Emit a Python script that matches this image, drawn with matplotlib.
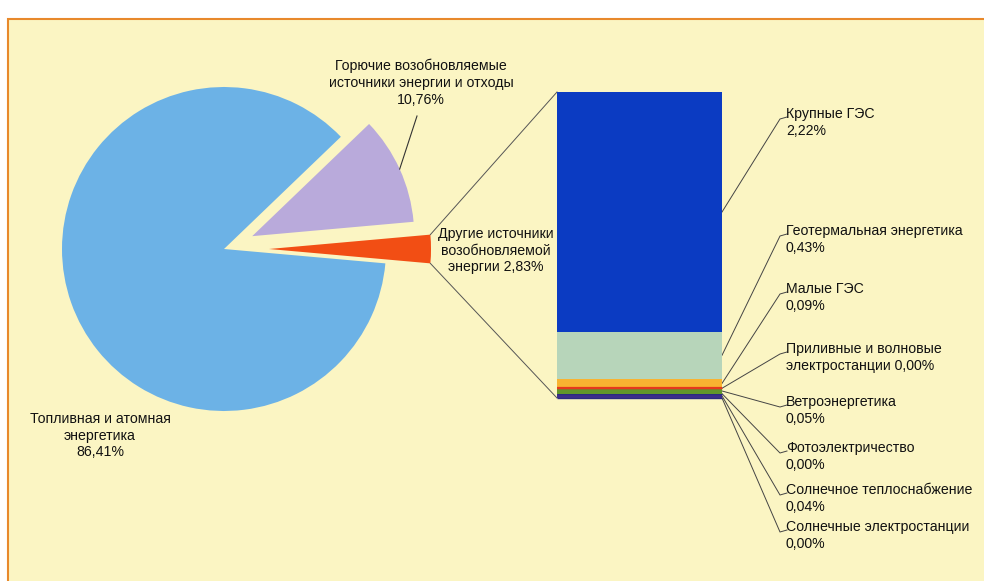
import numpy as np
import matplotlib
matplotlib.use("Agg")
import matplotlib.pyplot as plt
from matplotlib.patches import Rectangle

plt.rcParams['font.family'] = ['Liberation Sans', 'DejaVu Sans']

# pie: world primary energy supply, %
pie_labels = ["Другие источники\nвозобновляемой\nэнергии 2,83%",
              "Горючие возобновляемые\nисточники энергии и отходы\n10,76%",
              "Топливная и атомная\nэнергетика\n86,41%"]
pie_values = [2.83, 10.76, 86.41]
pie_colors = ["#F24E14", "#B9AADB", "#6CB2E6"]

# bar: breakdown of "other renewables", bottom to top
bar_labels = ["Солнечные электростанции\n0,00%",
              "Солнечное теплоснабжение\n0,04%",
              "Фотоэлектричество\n0,00%",
              "Ветроэнергетика\n0,05%",
              "Приливные и волновые\nэлектростанции 0,00%",
              "Малые ГЭС\n0,09%",
              "Геотермальная энергетика\n0,43%",
              "Крупные ГЭС\n2,22%"]
bar_values = [0.00, 0.04, 0.00, 0.05, 0.00, 0.09, 0.43, 2.22]
bar_colors = ["#2B2A80", "#3C2D8A", "#2B2A80", "#62962B", "#E5391D",
              "#F8B331", "#B7D5BA", "#0B3BC2"]
bar_edges = ["#2B2A80", "none", "#2B2A80", "none", "#E5391D",
             "none", "none", "none"]

# text top-left positions of right labels (pixels from top)
label_y = [520, 483, 441, 395, 342, 282, 224, 107]

W, H = 984, 581
fig = plt.figure(figsize=(W / 100, H / 100), dpi=100, facecolor="white")
ax = fig.add_axes([0, 0, 1, 1])

# background panel
ax.add_patch(Rectangle((8, -5), 1000, H - 19 + 5, facecolor="#FBF5C3",
                       edgecolor="#E8892B", linewidth=1.5, zorder=0))

start = -pie_values[0] / sum(pie_values) * 180
wedges, _ = ax.pie(pie_values, colors=pie_colors, startangle=start,
                   explode=[45, 31, 0], center=(224, H - 249), radius=162,
                   wedgeprops=dict(linewidth=0), frame=True)

# stacked bar
scale = (398 - 92) / sum(bar_values)
bottoms = 183 + np.concatenate([[0], np.cumsum(bar_values)[:-1]]) * scale
heights = np.array(bar_values) * scale
bars = ax.bar(639.5, heights, width=165, bottom=bottoms, color=bar_colors,
              edgecolor=bar_edges, linewidth=1.0, zorder=3)
# thin red line for tidal
ax.bar(639.5, heights[4], width=165, bottom=bottoms[4], color="none",
       edgecolor="#E5391D", linewidth=1.6, zorder=4)

# connector lines pie -> bar
ow = wedges[0]
cx, cy = ow.center
t1, t2 = np.radians(ow.theta1), np.radians(ow.theta2)
bx0 = bars[0].get_x()
top = bottoms[-1] + heights[-1]
ax.plot([cx + ow.r * np.cos(t2), bx0], [cy + ow.r * np.sin(t2), top],
        color="#555555", lw=0.7, zorder=2)
ax.plot([cx + ow.r * np.cos(t1), bx0], [cy + ow.r * np.sin(t1), bottoms[0]],
        color="#555555", lw=0.7, zorder=2)

# pie labels
pw = wedges[1]
pm = np.radians((pw.theta1 + pw.theta2) / 2)
ax.plot([pw.center[0] + pw.r * np.cos(pm), 417],
        [pw.center[1] + pw.r * np.sin(pm), H - 116],
        color="#333333", lw=0.8, zorder=2)
ax.text(421, H - 59, pie_labels[1], ha="center", va="top", fontsize=10.2,
        linespacing=1.25, color="#111111")
ax.text(496, H - 227, pie_labels[0], ha="center", va="top", fontsize=10.2,
        linespacing=1.25, color="#111111")
ax.text(100, H - 412, pie_labels[2], ha="center", va="top", fontsize=10.2,
        linespacing=1.25, color="#111111")

# bar labels with leader lines
bx1 = bars[0].get_x() + bars[0].get_width()
for i, lab in enumerate(bar_labels):
    ymid = bottoms[i] + heights[i] / 2
    ty = H - label_y[i]
    ey = ty - 12
    ax.plot([bx1, 780, 787], [ymid, ey, ey + 2], color="#444444", lw=0.7,
            zorder=2)
    ax.text(786, ty, lab, ha="left", va="top", fontsize=10.2,
            linespacing=1.3, color="#111111")

ax.set_xlim(0, W)
ax.set_ylim(0, H)
ax.set_aspect("auto")
ax.axis("off")

fig.savefig("out.png", dpi=100, facecolor=fig.get_facecolor())
